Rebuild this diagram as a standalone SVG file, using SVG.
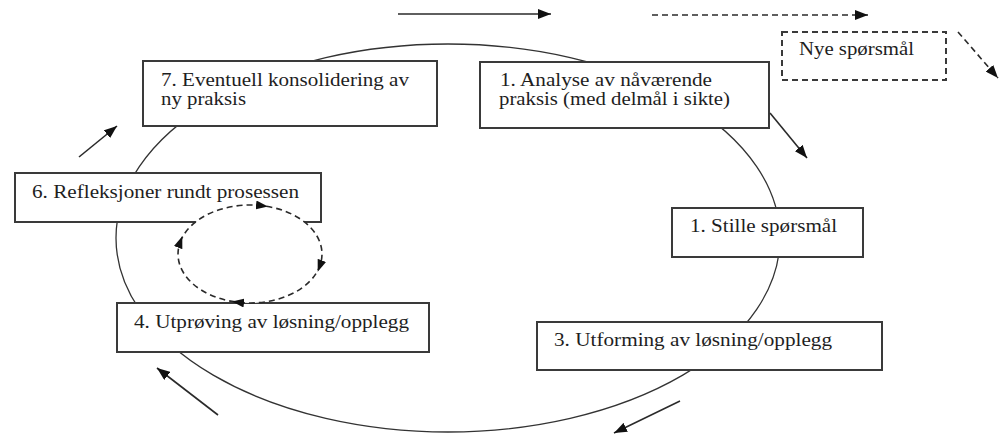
<svg xmlns="http://www.w3.org/2000/svg" width="1005" height="436" viewBox="0 0 1005 436">
<style>
.box{fill:#fff;stroke:#3a3a3a;stroke-width:2}
.dbox{fill:#fff;stroke:#3a3a3a;stroke-width:2;stroke-dasharray:6 4}
.ln{fill:none;stroke:#2a2a2a;stroke-width:1.6}
.dl{fill:none;stroke:#2a2a2a;stroke-width:1.6;stroke-dasharray:6 4}
.cyc{fill:none;stroke:#333;stroke-width:1.3}
</style>
<defs>
<marker id="ah" markerUnits="userSpaceOnUse" markerWidth="14" markerHeight="10" refX="13" refY="5" orient="auto">
<path d="M0,0 L13,5 L0,10 z" fill="#111"/>
</marker>
<marker id="ahs" markerUnits="userSpaceOnUse" markerWidth="12" markerHeight="10" refX="6" refY="4.5" orient="auto">
<path d="M0,0 L12,4.5 L0,9 z" fill="#111"/>
</marker>
</defs>
<rect width="1005" height="436" fill="#fff"/>
<g id="cycle">
<ellipse class="cyc" cx="448" cy="238" rx="332" ry="194"/>
</g>
<g id="node7">
<rect class="box" x="143" y="61" width="294" height="65"/>
<text x="161" y="86" font-family="Liberation Serif" font-size="18" fill="#1e1e1e" textLength="248" lengthAdjust="spacingAndGlyphs">7. Eventuell konsolidering av</text>
<text x="161" y="105" font-family="Liberation Serif" font-size="18" fill="#1e1e1e" textLength="85" lengthAdjust="spacingAndGlyphs">ny praksis</text>
</g>
<g id="node1">
<rect class="box" x="480" y="62" width="289" height="66"/>
<text x="500" y="86" font-family="Liberation Serif" font-size="18" fill="#1e1e1e" textLength="212" lengthAdjust="spacingAndGlyphs">1. Analyse av nåværende</text>
<text x="499" y="105" font-family="Liberation Serif" font-size="18" fill="#1e1e1e" textLength="231" lengthAdjust="spacingAndGlyphs">praksis (med delmål i sikte)</text>
</g>
<g id="nye">
<rect class="dbox" x="782" y="32" width="164" height="48"/>
<text x="799" y="55" font-family="Liberation Serif" font-size="18" fill="#1e1e1e" textLength="115" lengthAdjust="spacingAndGlyphs">Nye spørsmål</text>
</g>
<g id="node6">
<rect class="box" x="15" y="173" width="306" height="49"/>
<text x="32" y="198" font-family="Liberation Serif" font-size="18" fill="#1e1e1e" textLength="267" lengthAdjust="spacingAndGlyphs">6. Refleksjoner rundt prosessen</text>
</g>
<g id="node2">
<rect class="box" x="672" y="208" width="191" height="49"/>
<text x="690" y="232" font-family="Liberation Serif" font-size="18" fill="#1e1e1e" textLength="147" lengthAdjust="spacingAndGlyphs">1. Stille spørsmål</text>
</g>
<g id="node4">
<rect class="box" x="117" y="303" width="312" height="49"/>
<text x="134" y="328" font-family="Liberation Serif" font-size="18" fill="#1e1e1e" textLength="275" lengthAdjust="spacingAndGlyphs">4. Utprøving av løsning/opplegg</text>
</g>
<g id="node3">
<rect class="box" x="537" y="322" width="345" height="48"/>
<text x="554" y="346" font-family="Liberation Serif" font-size="18" fill="#1e1e1e" textLength="278" lengthAdjust="spacingAndGlyphs">3. Utforming av løsning/opplegg</text>
</g>
<g id="connectors">
<ellipse cx="250" cy="254" rx="72" ry="49" fill="#fff"/>
<path class="dl" d="M180.2,242 A72,49 0 0,1 262,205.7 A72,49 0 0,1 319.8,266 A72,49 0 0,1 238,302.3 A72,49 0 0,1 180.2,242" marker-mid="url(#ahs)" marker-end="url(#ahs)"/>
<line class="ln" x1="398" y1="14" x2="551" y2="14" marker-end="url(#ah)"/>
<line class="dl" x1="652" y1="15" x2="868" y2="15" marker-end="url(#ah)"/>
<line class="dl" x1="958" y1="32" x2="998" y2="78" marker-end="url(#ah)"/>
<line class="ln" x1="770" y1="113" x2="807" y2="158" marker-end="url(#ah)"/>
<line class="ln" x1="79" y1="157" x2="117" y2="126" marker-end="url(#ah)"/>
<line class="ln" x1="218" y1="415" x2="157" y2="368" marker-end="url(#ah)"/>
<line class="ln" x1="680" y1="401" x2="614" y2="433" marker-end="url(#ah)"/>
</g>
</svg>
